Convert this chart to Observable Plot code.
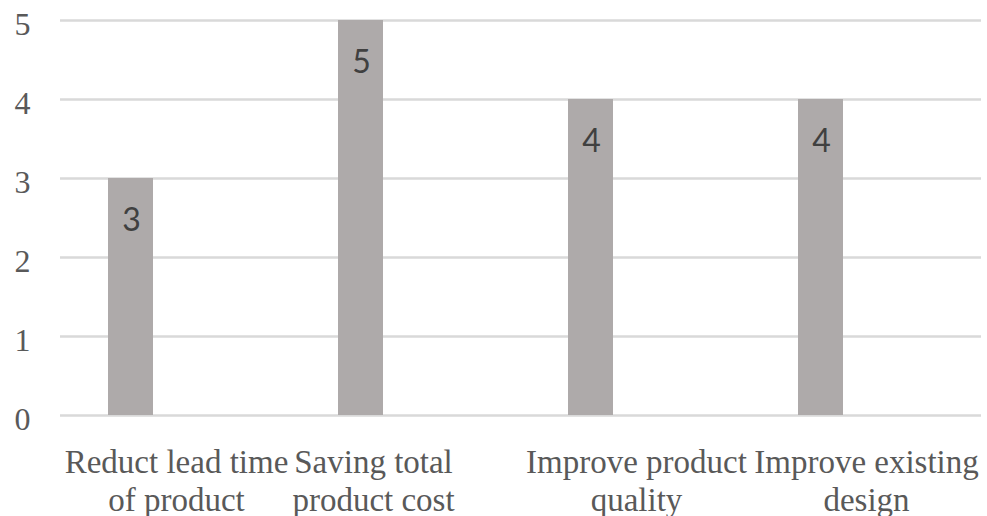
<!DOCTYPE html>
<html>
<head>
<meta charset="utf-8">
<script src="https://cdn.jsdelivr.net/npm/d3@7"></script>
<script src="https://cdn.jsdelivr.net/npm/@observablehq/plot@0.6"></script>
<style>
  html, body { margin: 0; padding: 0; background: #fff; }
</style>
</head>
<body>
<div id="chart"></div>
<script>
const categories = ["Reduct lead time of product", "Saving total product cost", "Improve product quality", "Improve existing design"];
const labelLines = [
  ["Reduct lead time", "of product"],
  ["Saving total\u00a0\u00a0\u00a0\u00a0\u00a0\u00a0\u00a0\u00a0", "product cost\u00a0\u00a0\u00a0\u00a0\u00a0\u00a0\u00a0\u00a0"],
  ["Improve product", "quality"],
  ["Improve existing", "design"]
];
const values = [3, 5, 4, 4];
const yTicks = [0, 1, 2, 3, 4, 5];

const data = categories.map((c, i) => ({category: c, value: values[i], label: labelLines[i].join("\n")}));

const chart = Plot.plot({
  width: 987,
  height: 516,
  marginLeft: 60,
  marginRight: 6,
  marginTop: 20,
  marginBottom: 101,
  style: {fontFamily: "'Liberation Serif', serif", background: "#fff"},
  x: {domain: categories, padding: 0, axis: null},
  y: {domain: [0, 5], ticks: yTicks, label: null},
  marks: [
    Plot.ruleY(yTicks, {stroke: "#d9d9d9", strokeWidth: 2.5}),
    Plot.barY(data, {x: "category", y: "value", fill: "#aeaaaa", insetLeft: 47, insetRight: 138}),
    Plot.text(data, {x: "category", y: "value", text: d => String(d.value), dx: -45, dy: 42,
      fontFamily: "Lato, 'Open Sans', sans-serif", fontSize: 32, fill: "#404040"}),
    Plot.text(data, {x: "category", y: () => 0, text: "label", dy: 31, lineAnchor: "top",
      fontSize: 33, fill: "#595959", lineHeight: 1.15}),
    Plot.axisY(yTicks, {tickSize: 0, tickPadding: 30, fontSize: 32, fill: "#595959", label: null,
      tickFormat: "d", dy: 4, fontFamily: "'Liberation Serif', serif"})
  ]
});
document.getElementById("chart").appendChild(chart);
</script>
</body>
</html>
